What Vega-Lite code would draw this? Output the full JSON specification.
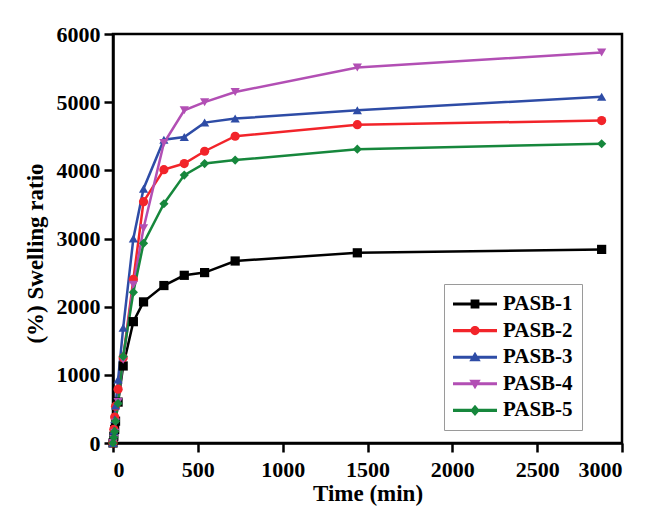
{
  "$schema": "https://vega.github.io/schema/vega-lite/v6.json",
  "width": 509,
  "height": 409,
  "autosize": {"type": "none"},
  "padding": {"left": 113, "top": 34, "right": 33, "bottom": 69},
  "background": "white",
  "config": {
    "view": {"stroke": "black", "strokeWidth": 2.5},
    "axis": {
      "domainColor": "black", "domainWidth": 2.5, "tickColor": "black", "tickWidth": 2.5, "tickSize": 9,
      "grid": false, "labelFont": "Liberation Serif", "labelFontWeight": "bold", "labelFontSize": 22,
      "labelColor": "black", "titleFont": "Liberation Serif", "titleFontWeight": "bold", "titleFontSize": 23,
      "titleColor": "black", "format": "d"
    }
  },
  "data": {"values": [
    {"t": 0, "r": 0, "s": "PASB-1"}, {"t": 5, "r": 100, "s": "PASB-1"}, {"t": 10, "r": 200, "s": "PASB-1"}, {"t": 15, "r": 320, "s": "PASB-1"}, {"t": 30, "r": 600, "s": "PASB-1"}, {"t": 60, "r": 1130, "s": "PASB-1"}, {"t": 120, "r": 1780, "s": "PASB-1"}, {"t": 180, "r": 2070, "s": "PASB-1"}, {"t": 300, "r": 2310, "s": "PASB-1"}, {"t": 420, "r": 2460, "s": "PASB-1"}, {"t": 540, "r": 2500, "s": "PASB-1"}, {"t": 720, "r": 2670, "s": "PASB-1"}, {"t": 1440, "r": 2790, "s": "PASB-1"}, {"t": 2880, "r": 2840, "s": "PASB-1"},
    {"t": 0, "r": 0, "s": "PASB-2"}, {"t": 5, "r": 200, "s": "PASB-2"}, {"t": 10, "r": 380, "s": "PASB-2"}, {"t": 15, "r": 540, "s": "PASB-2"}, {"t": 30, "r": 790, "s": "PASB-2"}, {"t": 60, "r": 1250, "s": "PASB-2"}, {"t": 120, "r": 2400, "s": "PASB-2"}, {"t": 180, "r": 3540, "s": "PASB-2"}, {"t": 300, "r": 4010, "s": "PASB-2"}, {"t": 420, "r": 4100, "s": "PASB-2"}, {"t": 540, "r": 4280, "s": "PASB-2"}, {"t": 720, "r": 4500, "s": "PASB-2"}, {"t": 1440, "r": 4670, "s": "PASB-2"}, {"t": 2880, "r": 4730, "s": "PASB-2"},
    {"t": 0, "r": 0, "s": "PASB-3"}, {"t": 5, "r": 180, "s": "PASB-3"}, {"t": 10, "r": 350, "s": "PASB-3"}, {"t": 15, "r": 550, "s": "PASB-3"}, {"t": 30, "r": 930, "s": "PASB-3"}, {"t": 60, "r": 1690, "s": "PASB-3"}, {"t": 120, "r": 3000, "s": "PASB-3"}, {"t": 180, "r": 3730, "s": "PASB-3"}, {"t": 300, "r": 4450, "s": "PASB-3"}, {"t": 420, "r": 4490, "s": "PASB-3"}, {"t": 540, "r": 4700, "s": "PASB-3"}, {"t": 720, "r": 4760, "s": "PASB-3"}, {"t": 1440, "r": 4880, "s": "PASB-3"}, {"t": 2880, "r": 5080, "s": "PASB-3"},
    {"t": 0, "r": 0, "s": "PASB-4"}, {"t": 5, "r": 60, "s": "PASB-4"}, {"t": 10, "r": 150, "s": "PASB-4"}, {"t": 15, "r": 300, "s": "PASB-4"}, {"t": 30, "r": 600, "s": "PASB-4"}, {"t": 60, "r": 1220, "s": "PASB-4"}, {"t": 120, "r": 2320, "s": "PASB-4"}, {"t": 180, "r": 3150, "s": "PASB-4"}, {"t": 300, "r": 4400, "s": "PASB-4"}, {"t": 420, "r": 4880, "s": "PASB-4"}, {"t": 540, "r": 5000, "s": "PASB-4"}, {"t": 720, "r": 5150, "s": "PASB-4"}, {"t": 1440, "r": 5510, "s": "PASB-4"}, {"t": 2880, "r": 5730, "s": "PASB-4"},
    {"t": 0, "r": 0, "s": "PASB-5"}, {"t": 5, "r": 80, "s": "PASB-5"}, {"t": 10, "r": 170, "s": "PASB-5"}, {"t": 15, "r": 320, "s": "PASB-5"}, {"t": 30, "r": 580, "s": "PASB-5"}, {"t": 60, "r": 1270, "s": "PASB-5"}, {"t": 120, "r": 2210, "s": "PASB-5"}, {"t": 180, "r": 2930, "s": "PASB-5"}, {"t": 300, "r": 3510, "s": "PASB-5"}, {"t": 420, "r": 3930, "s": "PASB-5"}, {"t": 540, "r": 4100, "s": "PASB-5"}, {"t": 720, "r": 4150, "s": "PASB-5"}, {"t": 1440, "r": 4310, "s": "PASB-5"}, {"t": 2880, "r": 4390, "s": "PASB-5"}
  ]},
  "encoding": {
    "x": {"field": "t", "type": "quantitative", "title": "Time (min)",
      "scale": {"domain": [0, 3000], "nice": false},
      "axis": {"values": [0, 500, 1000, 1500, 2000, 2500, 3000], "labelPadding": 7, "titlePadding": 2}},
    "y": {"field": "r", "type": "quantitative", "title": "(%) Swelling ratio",
      "scale": {"domain": [0, 6000], "nice": false},
      "axis": {"values": [0, 1000, 2000, 3000, 4000, 5000, 6000], "labelPadding": 4, "titlePadding": 9, "titleY": 219}},
    "color": {"field": "s", "type": "nominal",
      "scale": {"domain": ["PASB-1", "PASB-2", "PASB-3", "PASB-4", "PASB-5"],
                "range": ["#000000", "#f2242a", "#2e4ca6", "#b24fb4", "#16873c"]},
      "legend": {
        "title": null, "orient": "none", "legendX": 331, "legendY": 250,
        "strokeColor": "#9a9a9a", "padding": 9, "symbolSize": 484, "symbolStrokeWidth": 0,
        "labelFont": "Liberation Serif", "labelFontWeight": "bold", "labelFontSize": 21, "labelColor": "black",
        "labelOffset": 28, "rowPadding": 5.6,
        "encode": {"symbols": {"update": {
          "shape": {"signal": "datum.value === 'PASB-1' ? 'M-1,-0.14H3V0.14H-1ZM0.6,-0.4H1.4V0.4H0.6Z' : datum.value === 'PASB-2' ? 'M-1,-0.14H3V0.14H-1ZM0.58,0A0.42,0.42 0 1,1 1.42,0A0.42,0.42 0 1,1 0.58,0Z' : datum.value === 'PASB-3' ? 'M-1,-0.14H3V0.14H-1ZM1,-0.5L1.52,0.36H0.48Z' : datum.value === 'PASB-4' ? 'M-1,-0.14H3V0.14H-1ZM1,0.5L0.48,-0.36H1.52Z' : 'M-1,-0.14H3V0.14H-1ZM1,-0.52L1.44,0L1,0.52L0.56,0Z'"},
          "fill": {"scale": "color", "field": "value"},
          "opacity": {"value": 1}
        }}}
      }}
  },
  "layer": [
    {"mark": {"type": "line", "strokeWidth": 2.5}},
    {"transform": [{"filter": "datum.s === 'PASB-1'"}], "mark": {"type": "point", "shape": "square", "filled": true, "size": 85, "opacity": 1}},
    {"transform": [{"filter": "datum.s === 'PASB-2'"}], "mark": {"type": "point", "shape": "circle", "filled": true, "size": 85, "opacity": 1}},
    {"transform": [{"filter": "datum.s === 'PASB-3'"}], "mark": {"type": "point", "shape": "triangle-up", "filled": true, "size": 85, "opacity": 1}},
    {"transform": [{"filter": "datum.s === 'PASB-4'"}], "mark": {"type": "point", "shape": "triangle-down", "filled": true, "size": 85, "opacity": 1}},
    {"transform": [{"filter": "datum.s === 'PASB-5'"}], "mark": {"type": "point", "shape": "diamond", "filled": true, "size": 85, "opacity": 1}}
  ]
}
